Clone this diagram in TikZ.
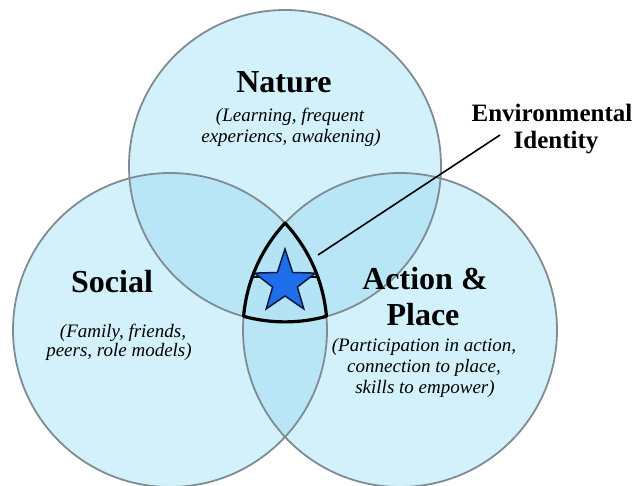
\documentclass[tikz,border=0pt]{standalone}
\usepackage{fontspec}
\setmainfont{Liberation Serif}
\definecolor{singlefill}{HTML}{D3F1FA}
\definecolor{doublefill}{HTML}{B9E6F6}
\definecolor{triplefill}{HTML}{B3E3F5}
\definecolor{circline}{RGB}{128,140,145}
\definecolor{starblue}{RGB}{30,110,235}
\definecolor{stardark}{RGB}{10,25,60}
\tikzset{
  vennline/.style={draw=circline, line width=1.8pt},
  core/.style={draw=black, line width=3.2pt, line join=round},
  titletext/.style={font=\bfseries\fontsize{32}{36}\selectfont, anchor=base, inner sep=0pt},
  subtext/.style={font=\itshape\fontsize{19}{21}\selectfont, anchor=base, inner sep=0pt},
  eidtext/.style={font=\bfseries\fontsize{25}{27}\selectfont, anchor=base, inner sep=0pt},
  leader/.style={draw=black, line width=1.6pt},
}
\begin{document}
\begin{tikzpicture}[x=1pt,y=-1pt]
\useasboundingbox (0,0) rectangle (634,485);
\fill[white] (0,0) rectangle (634,485);
\coordinate (N) at (285,166);
\coordinate (S) at (170,330);
\coordinate (A) at (400,330);
% single fills
\fill[singlefill] (N) circle[radius=156pt];
\fill[singlefill] (S) circle[radius=157pt];
\fill[singlefill] (A) circle[radius=157pt];
% double overlaps
\begin{scope}
  \clip (N) circle[radius=156pt];
  \fill[doublefill] (S) circle[radius=157pt];
  \fill[doublefill] (A) circle[radius=157pt];
\end{scope}
\begin{scope}
  \clip (S) circle[radius=157pt];
  \fill[doublefill] (A) circle[radius=157pt];
\end{scope}
% circle outlines
\draw[vennline] (N) circle[radius=156pt];
\draw[vennline] (S) circle[radius=157pt];
\draw[vennline] (A) circle[radius=157pt];
% central region
\coordinate (T) at (285,223.1);
\fill[triplefill] (T) arc[start angle=137.1, end angle=175.0, radius=157pt]
  arc[start angle=254.6, end angle=285.4, radius=156pt]
  arc[start angle=5.0, end angle=42.9, radius=157pt] -- cycle;
\coordinate (CL) at (252.2,277);
\coordinate (CR) at (317.8,277);
\draw[draw=black, line width=2.4pt] (CL) -- (CR);
\draw[core] (T) arc[start angle=137.1, end angle=175.0, radius=157pt]
  arc[start angle=254.6, end angle=285.4, radius=156pt]
  arc[start angle=5.0, end angle=42.9, radius=157pt] -- cycle;
% star
\begin{scope}[shift={(285,283)}]
  \fill[starblue, draw=stardark, line width=1.5pt, line join=miter]
    (90:34pt) -- (126:13pt) -- (162:32pt) -- (198:13pt) -- (234:32pt)
    -- (270:13pt) -- (306:32pt) -- (342:13pt) -- (18:32pt) -- (54:13pt) -- cycle;
\end{scope}
% texts
\node[titletext] (nat) at (284,92) {Nature};
\node[subtext] (nat1) at (290,121) {(Learning, frequent};
\node[subtext] (nat2) at (291,142) {experiencs, awakening)};
\node[titletext] (soc) at (112,292) {Social};
\node[subtext] (soc1) at (123,337) {(Family, friends,};
\node[subtext] (soc2) at (119,356) {peers, role models)};
\node[titletext] (act1) at (425,289) {Action \&};
\node[titletext] (act2) at (423,325) {Place};
\node[subtext] (acts1) at (424,351) {(Participation in action,};
\node[subtext] (acts2) at (424,372) {connection to place,};
\node[subtext] (acts3) at (425,393) {skills to empower)};
\node[eidtext] (env) at (552,121) {Environmental};
\node[eidtext] (ident) at (556,148) {Identity};
% leader line
\coordinate (LS) at (318,255);
\coordinate (LE) at (500,135);
\draw[leader] (LS) -- (LE);
\end{tikzpicture}
\end{document}
